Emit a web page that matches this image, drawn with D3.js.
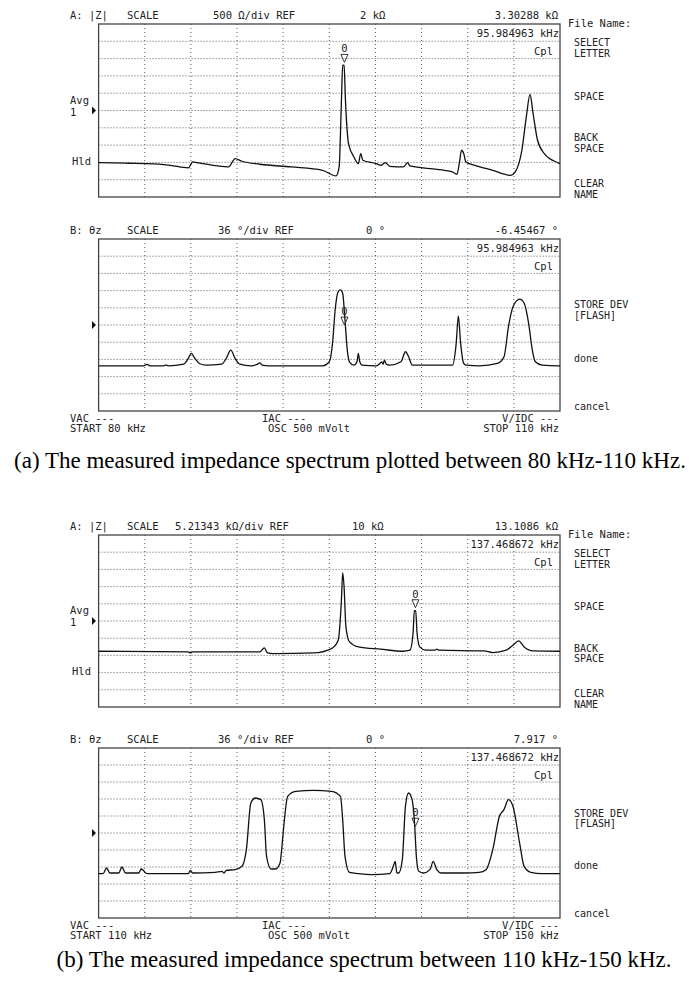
<!DOCTYPE html>
<html lang="en">
<head>
<meta charset="UTF-8">
<title>Impedance spectrum</title>
<style>
  body { margin: 0; background: #fff; }
  text { font-family: "DejaVu Sans Mono", monospace; font-size: 10.5px; fill: #222; }
  .sk { font-size: 10px; }
  .cap { font-family: "Liberation Serif", serif; font-size: 23px; fill: #000; }
</style>
</head>
<body>
<script src="https://d3js.org/d3.v7.min.js"></script>
<script>
// ---- data (kHz, ohm / degree) ----
var a1Freq = [80,81.9,83.2,84.66,85.83,86.12,86.4,88.45,88.88,89.32,90.49,92.52,94.56,95.44,95.64,95.79,95.87,95.96,96.05,96.25,96.6,96.89,97.04,97.18,98.06,98.35,98.64,98.93,99.8,100.1,100.24,101.55,103.0,103.3,103.45,103.6,103.74,103.88,104.47,105.63,106.8,107.09,107.52,107.81,108.05,108.25,108.54,108.98,109.85,110];
var a1Z = [494,475,465,417,340,513,494,369,610,533,446,369,272,108,369,2300,3313,3303,2300,1044,658,465,755,562,465,417,494,388,369,494,398,320,224,156,465,851,755,513,417,272,127,224,851,1817,2463,1913,1141,755,494,465];

var a2Freq = [80,82.91,83.15,83.35,84.22,84.37,84.52,85.53,85.83,86.03,86.26,86.55,86.99,88.01,88.30,88.59,88.88,89.18,89.9,90.34,90.49,90.63,91.07,94.56,95.0,95.21,95.38,95.58,95.73,95.87,96.02,96.17,96.31,96.6,96.8,96.89,96.98,97.13,98.06,98.29,98.41,98.5,98.58,98.7,98.93,99.66,99.95,100.16,100.39,103.01,103.25,103.39,103.54,103.74,103.89,104.76,105.93,106.36,106.65,106.95,107.38,107.67,107.96,108.2,108.4,108.84,109.86,110];
var a2Theta = [-85.4,-85.4,-82.6,-85.4,-85.4,-84.0,-85.4,-81.9,-70.0,-59.5,-70.0,-80.5,-84.0,-81.9,-70.0,-52.5,-70.0,-81.9,-85.4,-81.9,-79.1,-84.0,-85.4,-85.4,-77.0,-38.5,31.5,70.0,73.5,66.5,10.5,-52.5,-77.0,-84.0,-77.0,-59.5,-77.0,-84.0,-85.4,-80.5,-77.0,-81.9,-73.5,-81.9,-84.0,-77.0,-56.0,-66.5,-84.0,-84.0,-38.5,19.0,-38.5,-80.5,-84.0,-85.4,-80.5,-66.5,-3.5,38.5,54.0,45.5,3.5,-52.5,-77.0,-84.0,-85.4,-85.4];

var b1Freq = [110,117.77,117.96,118.15,123.98,124.37,124.64,125.14,128.64,130.19,130.77,131.05,131.16,131.28,131.44,131.75,132.52,134.46,136.4,136.99,137.26,137.37,137.49,137.61,137.84,138.35,139.12,139.32,139.51,143.39,144.17,145.34,145.92,146.42,146.89,147.66,150];
var b1Z = [838,636,332,636,636,1851,332,129,332,1649,4179,16327,24627,20376,8228,3673,2155,1446,838,1142,6204,13108,13108,6204,2155,1142,1142,1446,1142,939,433,1142,2661,3976,2155,939,838];

var b2Freq = [110,110.39,110.7,110.97,111.75,112.02,112.33,113.49,113.69,113.88,114.08,114.27,117.77,117.96,118.15,120.1,120.68,120.87,121.07,121.84,122.43,122.81,123.2,123.59,124.06,124.37,124.56,124.95,125.34,125.73,125.92,126.11,126.39,127.09,128.64,130.19,130.97,131.16,131.36,131.75,132.52,133.69,135.24,135.55,135.71,135.86,136.02,136.33,136.6,136.87,137.18,137.37,137.57,137.76,138.15,138.73,139.01,139.32,139.7,141.65,143.0,143.59,144.17,144.75,145.14,145.53,145.92,146.5,146.89,147.47,148.44,150];
var b2Theta = [-86.1,-86.1,-74.1,-84.7,-84.7,-72.0,-84.7,-84.7,-76.2,-79.1,-84.7,-86.1,-86.1,-79.1,-84.7,-83.3,-81.2,-84.7,-79.1,-77.6,-70.6,-35.3,63.5,74.1,70.6,28.2,-49.4,-76.2,-76.2,-63.5,-21.2,28.2,77.6,88.2,90.4,88.2,77.6,28.2,-49.4,-83.3,-86.1,-88.2,-86.1,-70.6,-60.0,-84.7,-84.7,-56.5,56.5,84.7,70.6,28.2,-56.5,-81.2,-84.7,-77.6,-60.0,-77.6,-84.7,-84.7,-83.3,-77.6,-35.3,35.3,49.4,70.6,56.5,-21.2,-70.6,-83.3,-86.1,-86.1];

var panels = [
  { top: 24, bottom: 197, f0: 80, f1: 110, ref: 2000, per: 500, freq: a1Freq, val: a1Z, mk: 95.984963, mkv: 3302.88,
    head: ["A: |Z|", "SCALE", "500 Ω/div REF", "2 kΩ", "3.30288 kΩ"], headX: [70,127,213,360],
    mkText: "95.984963 kHz", side: "A" },
  { top: 239, bottom: 411, f0: 80, f1: 110, ref: 0, per: 36, freq: a2Freq, val: a2Theta, mk: 95.984963, mkv: -6.45467,
    head: ["B: θz", "SCALE", "36 °/div REF", "0 °", "-6.45467 °"], headX: [70,127,218,366],
    mkText: "95.984963 kHz", side: "B", start: "START 80 kHz", stop: "STOP 110 kHz",
    cap: "(a) The measured impedance spectrum plotted between 80 kHz-110 kHz.", capX: 350, capY: 468 },
  { top: 535, bottom: 707, f0: 110, f1: 150, ref: 10000, per: 5213.43, freq: b1Freq, val: b1Z, mk: 137.468672, mkv: 13108.6,
    head: ["A: |Z|", "SCALE", "5.21343 kΩ/div REF", "10 kΩ", "13.1086 kΩ"], headX: [70,127,175,352],
    mkText: "137.468672 kHz", side: "A" },
  { top: 748, bottom: 918, f0: 110, f1: 150, ref: 0, per: 36, freq: b2Freq, val: b2Theta, mk: 137.468672, mkv: 7.917,
    head: ["B: θz", "SCALE", "36 °/div REF", "0 °", "7.917 °"], headX: [70,127,218,366],
    mkText: "137.468672 kHz", side: "B", start: "START 110 kHz", stop: "STOP 150 kHz",
    cap: "(b) The measured impedance spectrum between 110 kHz-150 kHz.", capX: 364, capY: 967 }
];

var L = 98.6, R = 560;
var svg = d3.select("body").append("svg").attr("width", 700).attr("height", 1000);

panels.forEach(function(p) {
  var g = svg.append("g");
  var x = d3.scaleLinear().domain([p.f0, p.f1]).range([L, R]);
  var y = d3.scaleLinear().domain([p.ref - 5 * p.per, p.ref + 5 * p.per]).range([p.bottom, p.top]);

  // grid
  var xt = d3.range(1, 10).map(function(i) { return p.f0 + i * (p.f1 - p.f0) / 10; });
  var yt = d3.range(1, 10).map(function(i) { return p.ref - 5 * p.per + i * p.per; });
  g.selectAll(".gx").data(xt).enter().append("line")
    .attr("x1", x).attr("x2", x).attr("y1", p.top).attr("y2", p.bottom)
    .attr("stroke", "#333").attr("stroke-width", 0.8).attr("stroke-dasharray", "1,3");
  g.selectAll(".gy").data(yt).enter().append("line")
    .attr("y1", y).attr("y2", y).attr("x1", L).attr("x2", R)
    .attr("stroke", "#333").attr("stroke-width", 0.8).attr("stroke-dasharray", "1,2");
  g.append("rect").attr("x", L).attr("y", p.top).attr("width", R - L).attr("height", p.bottom - p.top)
    .attr("fill", "none").attr("stroke", "#444").attr("stroke-width", 1.3);

  // trace
  var line = d3.line().x(function(d) { return x(d[0]); }).y(function(d) { return y(d[1]); })
    .curve(d3.curveMonotoneX);
  g.append("path").datum(d3.zip(p.freq, p.val)).attr("d", line)
    .attr("fill", "none").attr("stroke", "#111").attr("stroke-width", 1.3);

  // marker
  var mx = x(p.mk), my = y(p.mkv) - 3;
  g.append("path").attr("d", "M" + (mx - 3.5) + "," + (my - 8) + "L" + (mx + 3.5) + "," + (my - 8) + "L" + mx + "," + my + "Z")
    .attr("fill", "none").attr("stroke", "#222").attr("stroke-width", 0.9);
  g.append("text").attr("x", mx).attr("y", my - 10).attr("text-anchor", "middle").text("0");

  // header
  p.head.slice(0, 4).forEach(function(t, i) {
    g.append("text").attr("x", p.headX[i]).attr("y", p.top - 5).text(t);
  });
  g.append("text").attr("x", R - 2).attr("y", p.top - 5).attr("text-anchor", "end").text(p.head[4]);
  g.append("text").attr("x", R - 1).attr("y", p.top + 13).attr("text-anchor", "end").text(p.mkText);
  g.append("text").attr("x", R - 7).attr("y", p.top + 31).attr("text-anchor", "end").text("Cpl");

  // reference arrow
  var ay = y(p.ref);
  g.append("path").attr("d", "M92," + (ay - 4) + "L96," + ay + "L92," + (ay + 4) + "Z").attr("fill", "#111");

  var sx = 574, h = p.bottom - p.top;
  function soft(lines, frac) {
    var t = g.append("text").attr("class", "sk").attr("x", sx).attr("y", p.top + h * frac + 4);
    lines.forEach(function(s, i) { t.append("tspan").attr("x", sx).attr("dy", i ? 10.5 : 0).text(s); });
  }
  if (p.side === "A") {
    g.append("text").attr("x", 70).attr("y", ay - 7).text("Avg");
    g.append("text").attr("x", 70).attr("y", ay + 5).text("1");
    g.append("text").attr("x", 72).attr("y", p.top + h * 0.815).text("Hld");
    g.append("text").attr("x", 568).attr("y", p.top + 3).text("File Name:");
    soft(["SELECT", "LETTER"], 0.105);
    soft(["SPACE"], 0.415);
    soft(["BACK", "SPACE"], 0.655);
    soft(["CLEAR", "NAME"], 0.92);
  } else {
    soft(["STORE DEV", "[FLASH]"], 0.38);
    soft(["done"], 0.69);
    soft(["cancel"], 0.97);
    var by = p.bottom + 11;
    g.append("text").attr("x", 70).attr("y", by).text("VAC ---");
    g.append("text").attr("x", 70).attr("y", by + 10).text(p.start);
    g.append("text").attr("x", 262).attr("y", by).text("IAC ---");
    g.append("text").attr("x", 268).attr("y", by + 10).text("OSC 500 mVolt");
    g.append("text").attr("x", R - 1).attr("y", by).attr("text-anchor", "end").text("V/IDC ---");
    g.append("text").attr("x", R - 1).attr("y", by + 10).attr("text-anchor", "end").text(p.stop);
    g.append("text").attr("class", "cap").attr("x", p.capX).attr("y", p.capY).attr("text-anchor", "middle").text(p.cap);
  }
});
</script>
</body>
</html>
